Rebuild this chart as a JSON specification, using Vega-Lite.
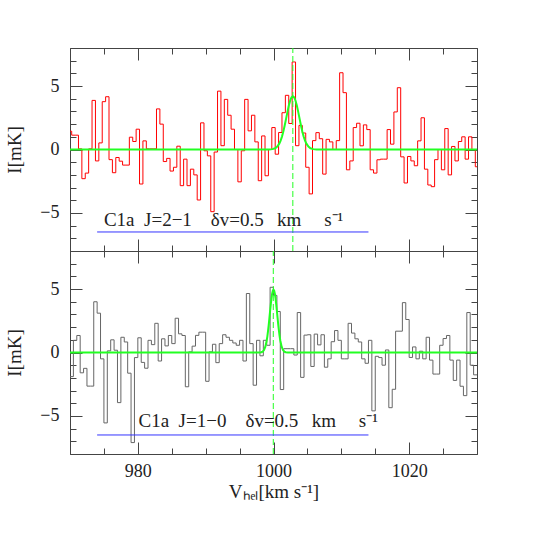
{
  "$schema": "https://vega.github.io/schema/vega-lite/v6.json",
  "background": "white",
  "padding": {"left": 4, "top": 47, "right": 5, "bottom": 5},
  "spacing": 0,
  "bounds": "flush",
  "config": {
    "view": {"stroke": "#444", "strokeWidth": 1},
    "font": "Liberation Serif",
    "axis": {
      "domain": false, "grid": false,
      "labelFont": "Liberation Serif", "labelFontSize": 18, "labelColor": "#222",
      "tickColor": "#444", "tickWidth": 1,
      "titleFont": "Liberation Serif", "titleFontSize": 19, "titleFontWeight": "normal", "titleColor": "#222"
    }
  },
  "datasets": {
    "top": [
      {"v":969.75,"I":1.44},{"v":970.25,"I":1.13},{"v":970.75,"I":1.13},{"v":971.25,"I":0.05},{"v":971.75,"I":-2.3},
      {"v":972.25,"I":-1.86},{"v":972.75,"I":0.05},{"v":973.25,"I":3.87},{"v":973.75,"I":-0.9},{"v":974.25,"I":0.52},
      {"v":974.75,"I":3.77},{"v":975.25,"I":4.16},{"v":975.75,"I":-0.8},{"v":976.25,"I":-1.83},{"v":976.75,"I":-0.63},
      {"v":977.25,"I":-0.92},{"v":977.75,"I":-1.23},{"v":978.25,"I":-1.23},{"v":978.75,"I":0.97},{"v":979.25,"I":0.63},
      {"v":979.75,"I":1.6},{"v":980.25,"I":-2.72},{"v":980.75,"I":0.68},{"v":981.25,"I":0.05},{"v":981.75,"I":0.05},
      {"v":982.25,"I":0.05},{"v":982.75,"I":3.2},{"v":983.25,"I":2.0},{"v":983.75,"I":-0.95},{"v":984.25,"I":-0.7},
      {"v":984.75,"I":-1.7},{"v":985.25,"I":-1.4},{"v":985.75,"I":0.26},{"v":986.25,"I":-2.85},{"v":986.75,"I":-0.76},
      {"v":987.25,"I":-2.85},{"v":987.75,"I":-1.55},{"v":988.25,"I":-2.0},{"v":988.75,"I":-3.98},{"v":989.25,"I":2.1},
      {"v":989.75,"I":-0.1},{"v":990.25,"I":-0.5},{"v":990.75,"I":-4.9},{"v":991.25,"I":-0.2},{"v":991.75,"I":4.6},
      {"v":992.25,"I":0.3},{"v":992.75,"I":3.95},{"v":993.25,"I":2.7},{"v":993.75,"I":1.6},{"v":994.25,"I":0.0},
      {"v":994.75,"I":-2.55},{"v":995.25,"I":-0.1},{"v":995.75,"I":3.95},{"v":996.25,"I":1.47},{"v":996.75,"I":2.7},
      {"v":997.25,"I":0.6},{"v":997.75,"I":-2.46},{"v":998.25,"I":1.07},{"v":998.75,"I":-2.07},{"v":999.25,"I":0.0},
      {"v":999.75,"I":1.73},{"v":1000.25,"I":-0.37},{"v":1000.75,"I":1.34},{"v":1001.25,"I":2.9},{"v":1001.75,"I":4.27},
      {"v":1002.25,"I":2.05},{"v":1002.75,"I":6.9},{"v":1003.25,"I":0.3},{"v":1003.75,"I":1.9},{"v":1004.25,"I":1.3},
      {"v":1004.75,"I":-1.4},{"v":1005.25,"I":-3.5},{"v":1005.75,"I":0.7},{"v":1006.25,"I":1.33},{"v":1006.75,"I":0.85},
      {"v":1007.25,"I":-1.94},{"v":1007.75,"I":0.8},{"v":1008.25,"I":0.6},{"v":1008.75,"I":0.0},{"v":1009.25,"I":0.7},
      {"v":1009.75,"I":6.05},{"v":1010.25,"I":4.48},{"v":1010.75,"I":-1.6},{"v":1011.25,"I":-0.9},{"v":1011.75,"I":1.73},
      {"v":1012.25,"I":2.07},{"v":1012.75,"I":0.29},{"v":1013.25,"I":1.94},{"v":1013.75,"I":1.57},{"v":1014.25,"I":-1.6},
      {"v":1014.75,"I":-1.86},{"v":1015.25,"I":-0.81},{"v":1015.75,"I":-0.76},{"v":1016.25,"I":-0.76},{"v":1016.75,"I":1.57},
      {"v":1017.25,"I":0.42},{"v":1017.75,"I":2.96},{"v":1018.25,"I":4.87},{"v":1018.75,"I":-0.58},{"v":1019.25,"I":-2.64},
      {"v":1019.75,"I":-0.55},{"v":1020.25,"I":-0.9},{"v":1020.75,"I":-1.28},{"v":1021.25,"I":0.68},{"v":1021.75,"I":2.5},
      {"v":1022.25,"I":-1.55},{"v":1022.75,"I":-2.8},{"v":1023.25,"I":-2.93},{"v":1023.75,"I":-0.8},{"v":1024.25,"I":0.0},
      {"v":1024.75,"I":-1.6},{"v":1025.25,"I":1.65},{"v":1025.75,"I":-2.0},{"v":1026.25,"I":0.24},{"v":1026.75,"I":-0.9},
      {"v":1027.25,"I":0.63},{"v":1027.75,"I":1.0},{"v":1028.25,"I":-0.76},{"v":1028.75,"I":1.0},{"v":1029.25,"I":0.0},
      {"v":1029.75,"I":-1.36},{"v":1030.25,"I":-1.36}
    ],
    "bot": [
      {"v":970.0,"I":-1.9},{"v":970.5,"I":0.96},{"v":971.0,"I":1.34},{"v":971.5,"I":-1.6},{"v":972.0,"I":-1.25},
      {"v":972.5,"I":-2.65},{"v":973.0,"I":-2.65},{"v":973.5,"I":4.0},{"v":974.0,"I":3.1},{"v":974.5,"I":-0.5},
      {"v":975.0,"I":-5.55},{"v":975.5,"I":0.13},{"v":976.0,"I":1.0},{"v":976.5,"I":0.18},{"v":977.0,"I":-3.95},
      {"v":977.5,"I":1.2},{"v":978.0,"I":0.83},{"v":978.5,"I":-1.63},{"v":979.0,"I":-7.1},{"v":979.5,"I":-0.4},
      {"v":980.0,"I":1.16},{"v":980.5,"I":-0.78},{"v":981.0,"I":-1.24},{"v":981.5,"I":0.96},{"v":982.0,"I":0.62},
      {"v":982.5,"I":2.3},{"v":983.0,"I":-0.67},{"v":983.5,"I":1.08},{"v":984.0,"I":0.52},{"v":984.5,"I":1.34},
      {"v":985.0,"I":0.7},{"v":985.5,"I":2.7},{"v":986.0,"I":1.47},{"v":986.5,"I":1.34},{"v":987.0,"I":-2.7},
      {"v":987.5,"I":0.05},{"v":988.0,"I":0.5},{"v":988.5,"I":1.35},{"v":989.0,"I":1.6},{"v":989.5,"I":1.6},
      {"v":990.0,"I":-2.27},{"v":990.5,"I":0.05},{"v":991.0,"I":0.65},{"v":991.5,"I":-0.8},{"v":992.0,"I":0.7},
      {"v":992.5,"I":1.4},{"v":993.0,"I":1.2},{"v":993.5,"I":0.96},{"v":994.0,"I":0.75},{"v":994.5,"I":0.57},
      {"v":995.0,"I":0.96},{"v":995.5,"I":-0.67},{"v":996.0,"I":4.65},{"v":996.5,"I":0.7},{"v":997.0,"I":-2.58},
      {"v":997.5,"I":0.96},{"v":998.0,"I":-0.26},{"v":998.5,"I":0.96},{"v":999.0,"I":0.57},{"v":999.5,"I":5.14},
      {"v":1000.0,"I":4.5},{"v":1000.5,"I":3.23},{"v":1001.0,"I":-2.92},{"v":1001.5,"I":0.3},{"v":1002.0,"I":0.3},
      {"v":1002.5,"I":0.3},{"v":1003.0,"I":-0.2},{"v":1003.5,"I":3.15},{"v":1004.0,"I":-1.96},{"v":1004.5,"I":1.37},
      {"v":1005.0,"I":1.4},{"v":1005.5,"I":-1.1},{"v":1006.0,"I":1.45},{"v":1006.5,"I":0.6},{"v":1007.0,"I":1.4},
      {"v":1007.5,"I":-1.16},{"v":1008.0,"I":-0.5},{"v":1008.5,"I":0.85},{"v":1009.0,"I":1.73},{"v":1009.5,"I":0.96},
      {"v":1010.0,"I":-0.5},{"v":1010.5,"I":-0.5},{"v":1011.0,"I":2.3},{"v":1011.5,"I":1.53},{"v":1012.0,"I":1.08},
      {"v":1012.5,"I":0.83},{"v":1013.0,"I":-0.5},{"v":1013.5,"I":-0.85},{"v":1014.0,"I":0.96},{"v":1014.5,"I":-4.6},
      {"v":1015.0,"I":-0.3},{"v":1015.5,"I":-0.4},{"v":1016.0,"I":-1.0},{"v":1016.5,"I":0.2},{"v":1017.0,"I":-4.35},
      {"v":1017.5,"I":-2.9},{"v":1018.0,"I":1.68},{"v":1018.5,"I":1.68},{"v":1019.0,"I":3.93},{"v":1019.5,"I":2.6},
      {"v":1020.0,"I":-0.39},{"v":1020.5,"I":0.44},{"v":1021.0,"I":-0.5},{"v":1021.5,"I":0.1},{"v":1022.0,"I":-0.5},
      {"v":1022.5,"I":1.2},{"v":1023.0,"I":-0.6},{"v":1023.5,"I":-1.7},{"v":1024.0,"I":-1.7},{"v":1024.5,"I":0.57},
      {"v":1025.0,"I":1.1},{"v":1025.5,"I":1.34},{"v":1026.0,"I":-0.6},{"v":1026.5,"I":-2.2},{"v":1027.0,"I":-0.6},
      {"v":1027.5,"I":-2.66},{"v":1028.0,"I":-3.4},{"v":1028.5,"I":3.15},{"v":1029.0,"I":-1.0},{"v":1029.5,"I":-1.76},
      {"v":1030.0,"I":-1.76}
    ],
    "gtop": [
      {"v":970,"I":0},{"v":998.85,"I":0},{"v":999.35,"I":0.005},{"v":999.85,"I":0.029},{"v":1000.25,"I":0.099},
      {"v":1000.55,"I":0.224},{"v":1000.85,"I":0.458},{"v":1001.05,"I":0.698},{"v":1001.25,"I":1.017},{"v":1001.45,"I":1.418},
      {"v":1001.65,"I":1.891},{"v":1001.85,"I":2.414},{"v":1002.05,"I":2.946},{"v":1002.25,"I":3.441},{"v":1002.45,"I":3.844},
      {"v":1002.65,"I":4.108},{"v":1002.85,"I":4.2},{"v":1003.05,"I":4.108},{"v":1003.25,"I":3.844},{"v":1003.45,"I":3.441},
      {"v":1003.65,"I":2.946},{"v":1003.85,"I":2.414},{"v":1004.05,"I":1.891},{"v":1004.25,"I":1.418},{"v":1004.45,"I":1.017},
      {"v":1004.65,"I":0.698},{"v":1004.85,"I":0.458},{"v":1005.15,"I":0.224},{"v":1005.45,"I":0.099},{"v":1005.85,"I":0.029},
      {"v":1006.35,"I":0.005},{"v":1006.85,"I":0},{"v":1030,"I":0}
    ],
    "gbot": [
      {"v":970,"I":0},{"v":997.8,"I":0},{"v":997.9,"I":0.003},{"v":998.2,"I":0.023},{"v":998.4,"I":0.072},
      {"v":998.6,"I":0.194},{"v":998.8,"I":0.458},{"v":999.0,"I":0.948},{"v":999.1,"I":1.298},{"v":999.2,"I":1.719},
      {"v":999.3,"I":2.202},{"v":999.4,"I":2.73},{"v":999.5,"I":3.274},{"v":999.6,"I":3.8},{"v":999.7,"I":4.266},
      {"v":999.8,"I":4.633},{"v":999.9,"I":4.869},{"v":1000.0,"I":4.95},{"v":1000.1,"I":4.869},{"v":1000.2,"I":4.633},
      {"v":1000.3,"I":4.266},{"v":1000.4,"I":3.8},{"v":1000.5,"I":3.274},{"v":1000.6,"I":2.73},{"v":1000.7,"I":2.202},
      {"v":1000.8,"I":1.719},{"v":1000.9,"I":1.298},{"v":1001.0,"I":0.948},{"v":1001.2,"I":0.458},{"v":1001.4,"I":0.194},
      {"v":1001.6,"I":0.072},{"v":1001.8,"I":0.023},{"v":1002.1,"I":0.003},{"v":1002.2,"I":0},{"v":1030,"I":0}
    ],
    "annTop": [
      {"center":1002.85,"ylo":-8,"yhi":8,"x1":974,"x2":1014,"yl":-6.5,"tx":975.0,"ty":-6.0,"label":"C1a\u2002J=2\u22121\u2003\u03b4v=0.5\u2002\u2009km\u2003\u2009s\u207b\u00b9"}
    ],
    "annBot": [
      {"center":999.97,"ylo":-8,"yhi":8,"x1":974,"x2":1014,"yl":-6.5,"tx":980.1,"ty":-5.9,"label":"C1a\u2002J=1\u22120\u2003\u03b4v=0.5\u2002\u2009km\u2003\u2009s\u207b\u00b9"}
    ]
  },
  "vconcat": [
    {
      "width": 407,
      "height": 203,
      "resolve": {"axis": {"x": "independent", "y": "independent"}},
      "layer": [
        {
          "data": {"name": "top"},
          "mark": {"type": "line", "interpolate": "step-after", "color": "#ff0000", "strokeWidth": 1, "clip": true},
          "encoding": {
            "x": {"field": "v", "type": "quantitative", "scale": {"domain": [970, 1030], "nice": false, "zero": false},
                  "axis": {"orient": "bottom", "values": [980, 1000, 1020], "labels": false, "tickSize": -12, "title": null}},
            "y": {"field": "I", "type": "quantitative", "scale": {"domain": [-8, 8], "nice": false, "zero": false},
                  "axis": {"orient": "left", "values": [-5, 0, 5], "tickSize": -12, "labelPadding": 23, "title": "I[mK]",
                           "titleX": -50, "titleY": 101.5, "titleAngle": 270, "titleBaseline": "alphabetic", "titleAlign": "center"}}
          }
        },
        {
          "data": {"name": "gtop"},
          "mark": {"type": "line", "color": "#22ff22", "strokeWidth": 2, "clip": true},
          "encoding": {
            "x": {"field": "v", "type": "quantitative", "scale": {"domain": [970, 1030], "nice": false, "zero": false},
                  "axis": {"orient": "top", "values": [980, 1000, 1020], "labels": false, "tickSize": -12, "title": null}},
            "y": {"field": "I", "type": "quantitative", "scale": {"domain": [-8, 8], "nice": false, "zero": false},
                  "axis": {"orient": "right", "values": [-5, 0, 5], "labels": false, "tickSize": -12, "title": null}}
          }
        },
        {
          "data": {"name": "annTop"},
          "mark": {"type": "rule", "stroke": "#22ff22", "strokeWidth": 1, "strokeDash": [6, 3]},
          "encoding": {
            "x": {"field": "center", "type": "quantitative", "scale": {"domain": [970, 1030], "nice": false, "zero": false},
                  "axis": {"orient": "bottom", "values": [970, 975, 980, 985, 990, 995, 1000, 1005, 1010, 1015, 1020, 1025, 1030], "labels": false, "tickSize": -6, "title": null}},
            "y": {"field": "ylo", "type": "quantitative", "scale": {"domain": [-8, 8], "nice": false, "zero": false}, "axis": null},
            "y2": {"field": "yhi"}
          }
        },
        {
          "data": {"name": "annTop"},
          "mark": {"type": "rule", "color": "#3333ff", "strokeWidth": 1},
          "encoding": {
            "x": {"field": "x1", "type": "quantitative", "scale": {"domain": [970, 1030], "nice": false, "zero": false},
                  "axis": {"orient": "top", "values": [970, 975, 980, 985, 990, 995, 1000, 1005, 1010, 1015, 1020, 1025, 1030], "labels": false, "tickSize": -6, "title": null}},
            "x2": {"field": "x2"},
            "y": {"field": "yl", "type": "quantitative", "scale": {"domain": [-8, 8], "nice": false, "zero": false},
                  "axis": {"orient": "left", "values": [-8, -7, -6, -5, -4, -3, -2, -1, 0, 1, 2, 3, 4, 5, 6, 7, 8], "labels": false, "tickSize": -6, "title": null}}
          }
        },
        {
          "data": {"name": "annTop"},
          "mark": {"type": "text", "align": "left", "baseline": "alphabetic", "font": "Liberation Serif", "fontSize": 19, "color": "#222"},
          "encoding": {
            "x": {"field": "tx", "type": "quantitative", "scale": {"domain": [970, 1030], "nice": false, "zero": false}, "axis": null},
            "y": {"field": "ty", "type": "quantitative", "scale": {"domain": [-8, 8], "nice": false, "zero": false},
                  "axis": {"orient": "right", "values": [-8, -7, -6, -5, -4, -3, -2, -1, 0, 1, 2, 3, 4, 5, 6, 7, 8], "labels": false, "tickSize": -6, "title": null}},
            "text": {"field": "label"}
          }
        }
      ]
    },
    {
      "width": 407,
      "height": 203,
      "resolve": {"axis": {"x": "independent", "y": "independent"}},
      "layer": [
        {
          "data": {"name": "bot"},
          "mark": {"type": "line", "interpolate": "step-after", "color": "#666666", "strokeWidth": 1, "clip": true},
          "encoding": {
            "x": {"field": "v", "type": "quantitative", "scale": {"domain": [970, 1030], "nice": false, "zero": false},
                  "axis": {"orient": "bottom", "values": [980, 1000, 1020], "format": "d", "tickSize": -12, "labelPadding": 34, "labelBaseline": "alphabetic",
                           "title": "V\u2095\u2091\u2097[km s\u207b\u00b9]", "titleX": 203.5, "titleY": 43, "titleBaseline": "alphabetic", "titleAlign": "center"}},
            "y": {"field": "I", "type": "quantitative", "scale": {"domain": [-8, 8], "nice": false, "zero": false},
                  "axis": {"orient": "left", "values": [-5, 0, 5], "tickSize": -12, "labelPadding": 23, "title": "I[mK]",
                           "titleX": -50, "titleY": 101.5, "titleAngle": 270, "titleBaseline": "alphabetic", "titleAlign": "center"}}
          }
        },
        {
          "data": {"name": "gbot"},
          "mark": {"type": "line", "color": "#22ff22", "strokeWidth": 2, "clip": true},
          "encoding": {
            "x": {"field": "v", "type": "quantitative", "scale": {"domain": [970, 1030], "nice": false, "zero": false},
                  "axis": {"orient": "top", "values": [980, 1000, 1020], "labels": false, "tickSize": -12, "title": null}},
            "y": {"field": "I", "type": "quantitative", "scale": {"domain": [-8, 8], "nice": false, "zero": false},
                  "axis": {"orient": "right", "values": [-5, 0, 5], "labels": false, "tickSize": -12, "title": null}}
          }
        },
        {
          "data": {"name": "annBot"},
          "mark": {"type": "rule", "stroke": "#22ff22", "strokeWidth": 1, "strokeDash": [6, 3]},
          "encoding": {
            "x": {"field": "center", "type": "quantitative", "scale": {"domain": [970, 1030], "nice": false, "zero": false},
                  "axis": {"orient": "bottom", "values": [970, 975, 980, 985, 990, 995, 1005, 1010, 1015, 1025, 1030], "labels": false, "tickSize": -6, "title": null}},
            "y": {"field": "ylo", "type": "quantitative", "scale": {"domain": [-8, 8], "nice": false, "zero": false}, "axis": null},
            "y2": {"field": "yhi"}
          }
        },
        {
          "data": {"name": "annBot"},
          "mark": {"type": "rule", "color": "#3333ff", "strokeWidth": 1},
          "encoding": {
            "x": {"field": "x1", "type": "quantitative", "scale": {"domain": [970, 1030], "nice": false, "zero": false},
                  "axis": {"orient": "top", "values": [970, 975, 980, 985, 990, 995, 1005, 1010, 1015, 1025, 1030], "labels": false, "tickSize": -6, "title": null}},
            "x2": {"field": "x2"},
            "y": {"field": "yl", "type": "quantitative", "scale": {"domain": [-8, 8], "nice": false, "zero": false},
                  "axis": {"orient": "left", "values": [-8, -7, -6, -5, -4, -3, -2, -1, 0, 1, 2, 3, 4, 5, 6, 7, 8], "labels": false, "tickSize": -6, "title": null}}
          }
        },
        {
          "data": {"name": "annBot"},
          "mark": {"type": "text", "align": "left", "baseline": "alphabetic", "font": "Liberation Serif", "fontSize": 19, "color": "#222"},
          "encoding": {
            "x": {"field": "tx", "type": "quantitative", "scale": {"domain": [970, 1030], "nice": false, "zero": false}, "axis": null},
            "y": {"field": "ty", "type": "quantitative", "scale": {"domain": [-8, 8], "nice": false, "zero": false},
                  "axis": {"orient": "right", "values": [-8, -7, -6, -5, -4, -3, -2, -1, 0, 1, 2, 3, 4, 5, 6, 7, 8], "labels": false, "tickSize": -6, "title": null}},
            "text": {"field": "label"}
          }
        }
      ]
    }
  ]
}
